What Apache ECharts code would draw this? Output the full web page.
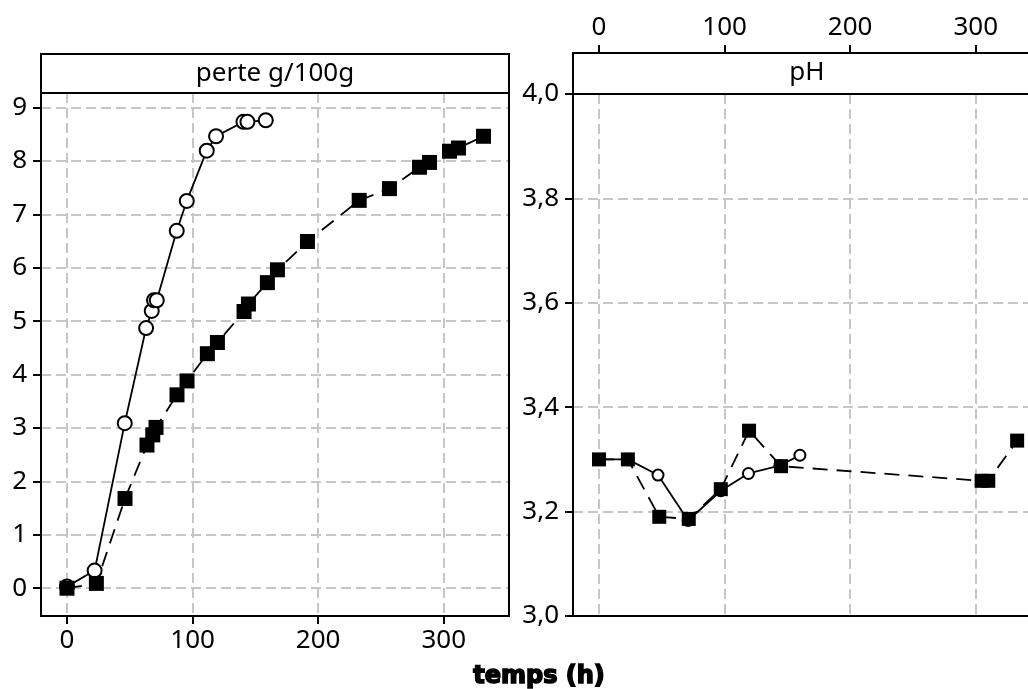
<!DOCTYPE html>
<html>
<head>
<meta charset="utf-8">
<script src="https://cdn.jsdelivr.net/npm/echarts@6/dist/echarts.min.js"></script>
<style>html,body{margin:0;padding:0;background:#fff}#c{width:1028px;height:689px}</style>
</head>
<body>
<div id="c"></div>
<script>
// --- data ---
const circT = [0, 22, 46, 63, 67.5, 69.3, 71.5, 87.4, 95.4, 111.3, 118.7, 140.5, 143.7, 158.3];
const circPerte = [0.03, 0.33, 3.09, 4.87, 5.19, 5.39, 5.39, 6.69, 7.25, 8.19, 8.46, 8.73, 8.73, 8.76];
const sqT = [0, 23.4, 46.2, 63.7, 68.3, 70.9, 87.6, 95.6, 111.8, 119.8, 141, 144.5, 159.6, 167.6, 191.5, 232.7, 256.8, 280.7, 288.7, 304.6, 311.8, 331.7];
const sqPerte = [0, 0.09, 1.68, 2.68, 2.87, 3.01, 3.62, 3.88, 4.39, 4.6, 5.18, 5.32, 5.72, 5.96, 6.49, 7.26, 7.48, 7.88, 7.97, 8.18, 8.24, 8.46];
const circPhT = [0, 23, 47, 71, 97, 119, 144, 160];
const circPh = [3.30, 3.30, 3.27, 3.183, 3.24, 3.273, 3.288, 3.308];
const sqPhT = [0, 23, 48, 71.5, 97, 119.5, 145, 304.7, 310, 333];
const sqPh = [3.30, 3.30, 3.19, 3.186, 3.243, 3.355, 3.287, 3.259, 3.259, 3.336];
const xTicks = [0, 100, 200, 300];
const perteTicks = [0, 1, 2, 3, 4, 5, 6, 7, 8, 9];
const phTicks = [3.0, 3.2, 3.4, 3.6, 3.8, 4.0];
const panelTitles = ['perte g/100g', 'pH'];
const xTitle = 'temps (h)';

const zip = (a, b) => a.map((v, i) => [v, b[i]]);
const FONT = 'Noto Sans';
const FS = 26;
const gridLine = { show: true, lineStyle: { color: '#c6c6c6', width: 2, type: [10, 5] } };
const tickStyle = { color: '#000', width: 2 };
const mkTick = vals => ({ show: true, inside: false, length: 8, lineStyle: tickStyle, customValues: vals });
const axLine = { show: true, onZero: false, lineStyle: { color: '#000', width: 2 } };
const mkLab = (vals, margin, fmt) => {
  const o = { show: true, color: '#000', fontFamily: FONT, fontSize: FS, margin: margin, customValues: vals };
  if (fmt) o.formatter = fmt;
  return o;
};

const chart = echarts.init(document.getElementById('c'), null, { renderer: 'canvas' });
chart.setOption({
  animation: false,
  backgroundColor: '#fff',
  grid: [
    { left: 41, top: 93, width: 468, height: 523, show: false, containLabel: false, outerBoundsMode: 'none' },
    { left: 573, top: 94, width: 468, height: 522, show: false, containLabel: false, outerBoundsMode: 'none' }
  ],
  xAxis: [
    { type: 'value', gridIndex: 0, min: -20.7, max: 352, splitNumber: 4, position: 'bottom',
      axisLine: axLine, axisTick: mkTick(xTicks), splitLine: gridLine,
      axisLabel: mkLab(xTicks, 12) },
    { type: 'value', gridIndex: 1, min: -20.7, max: 352, splitNumber: 4, position: 'top', offset: 41,
      axisLine: axLine, axisTick: mkTick(xTicks), splitLine: gridLine,
      axisLabel: mkLab(xTicks, 12) }
  ],
  yAxis: [
    { type: 'value', gridIndex: 0, min: -0.52, max: 9.27, splitNumber: 9,
      axisLine: axLine, axisTick: mkTick(perteTicks), splitLine: gridLine,
      axisLabel: mkLab(perteTicks, 14) },
    { type: 'value', gridIndex: 1, min: 3.0, max: 4.0, interval: 0.2,
      axisLine: axLine, axisTick: mkTick(phTicks), splitLine: gridLine,
      axisLabel: mkLab(phTicks, 14, v => v.toFixed(1).replace('.', ',')) }
  ],
  graphic: [
    { type: 'rect', z: 100, shape: { x: 41, y: 93, width: 468, height: 523 }, style: { fill: null, stroke: '#000', lineWidth: 2 } },
    { type: 'rect', z: 100, shape: { x: 573, y: 94, width: 468, height: 522 }, style: { fill: null, stroke: '#000', lineWidth: 2 } },
    { type: 'rect', z: 100, shape: { x: 41, y: 54, width: 468, height: 39 }, style: { fill: '#fff', stroke: '#000', lineWidth: 2 } },
    { type: 'text', z: 101, x: 275, y: 74, style: { text: panelTitles[0], fill: '#000', fontFamily: FONT, fontSize: FS, align: 'center', verticalAlign: 'middle' } },
    { type: 'rect', z: 100, shape: { x: 573, y: 53, width: 468, height: 41 }, style: { fill: '#fff', stroke: '#000', lineWidth: 2 } },
    { type: 'text', z: 101, x: 807, y: 73, style: { text: panelTitles[1], fill: '#000', fontFamily: FONT, fontSize: FS, align: 'center', verticalAlign: 'middle' } },
    { type: 'text', x: 539, y: 677, style: { text: xTitle, fill: '#000', stroke: '#000', lineWidth: 1.6, fontFamily: 'DejaVu Sans', fontWeight: 'bold', fontSize: 24, align: 'center', verticalAlign: 'middle' } }
  ],
  series: [
    { type: 'line', xAxisIndex: 0, yAxisIndex: 0, data: zip(circT, circPerte), symbol: 'emptyCircle', symbolSize: 14,
      lineStyle: { color: '#000', width: 1.8 }, itemStyle: { color: '#000', borderColor: '#000', borderWidth: 1.5 } },
    { type: 'line', xAxisIndex: 0, yAxisIndex: 0, data: zip(sqT, sqPerte), symbol: 'rect', symbolSize: 15,
      lineStyle: { color: '#000', width: 1.8, type: [15, 9] }, itemStyle: { color: '#000' } },
    { type: 'line', xAxisIndex: 1, yAxisIndex: 1, data: zip(circPhT, circPh), symbol: 'emptyCircle', symbolSize: 11,
      lineStyle: { color: '#000', width: 1.8 }, itemStyle: { color: '#000', borderColor: '#000', borderWidth: 1.5 } },
    { type: 'line', xAxisIndex: 1, yAxisIndex: 1, data: zip(sqPhT, sqPh), symbol: 'rect', symbolSize: 14,
      lineStyle: { color: '#000', width: 1.8, type: [15, 9] }, itemStyle: { color: '#000' } }
  ]
});
</script>
</body>
</html>
